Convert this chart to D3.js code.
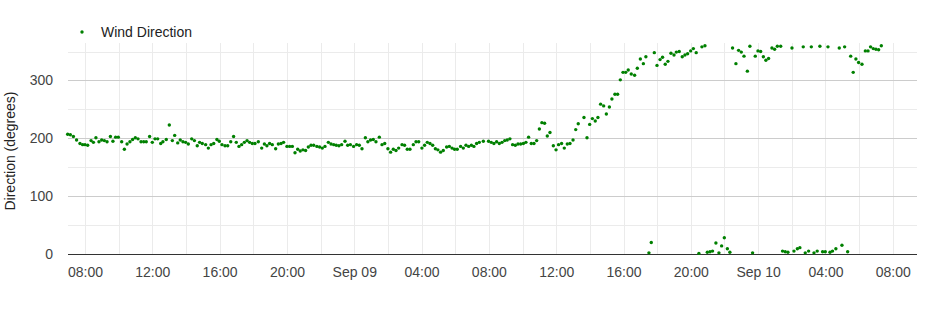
<!DOCTYPE html>
<html>
<head>
<meta charset="utf-8">
<script src="https://cdn.jsdelivr.net/npm/d3@7/dist/d3.min.js"></script>
<style>
  body { margin: 0; background: #fff; }
  text { font-family: "Liberation Sans", Arial, sans-serif; }
</style>
</head>
<body>
<div id="chart"></div>
<script>
  // readings: hours after Sep 08 00:00, and wind direction in degrees
  const startDay = new Date(2023, 8, 8);
  const seriesName = "Wind Direction";
  const yTitle = "Direction (degrees)";

  const hours = [
    6.97,7.13,7.31,7.50,7.70,7.86,8.00,8.16,8.36,8.50,
    8.65,8.83,8.99,9.15,9.31,9.51,9.66,9.82,9.98,10.18,
    10.34,10.50,10.67,10.83,10.99,11.15,11.33,11.49,11.64,11.84,
    12.00,12.16,12.32,12.50,12.63,12.83,13.01,13.19,13.33,13.51,
    13.66,13.82,13.98,14.14,14.34,14.50,14.67,14.81,14.97,15.17,
    15.33,15.49,15.65,15.84,15.98,16.14,16.32,16.48,16.66,16.83,
    16.99,17.15,17.31,17.47,17.63,17.78,17.94,18.10,18.30,18.50,
    18.66,18.81,18.97,19.13,19.33,19.49,19.65,19.80,20.00,20.16,
    20.32,20.48,20.64,20.79,20.95,21.11,21.27,21.43,21.59,21.78,
    21.94,22.10,22.26,22.46,22.62,22.78,22.93,23.09,23.25,23.45,
    23.61,23.77,23.96,
    24.14,24.30,24.46,24.66,24.81,24.97,25.13,25.29,25.49,25.65,
    25.81,26.00,26.16,26.32,26.48,26.64,26.84,26.99,27.15,27.31,
    27.51,27.67,27.83,28.02,28.18,28.34,28.50,28.66,28.82,28.97,
    29.13,29.29,29.49,29.65,29.81,29.96,30.12,30.32,30.48,30.64,
    30.80,30.96,31.11,31.27,31.43,31.67,31.98,32.14,32.30,32.46,
    32.62,32.78,32.94,33.09,33.25,33.41,33.57,33.73,33.89,34.05,
    34.20,34.36,34.52,34.68,34.84,35.00,35.15,35.31,35.47,35.63,
    35.83,35.99,36.14,
    36.32,36.48,36.66,36.82,37.00,37.16,37.31,37.65,37.83,37.99,
    38.15,38.32,38.48,38.64,38.82,38.98,39.16,39.31,39.49,39.65,
    39.81,39.97,40.13,40.28,40.46,40.66,40.82,41.00,41.18,41.33,
    41.83,41.99,42.17,42.32,42.48,42.64,42.82,43.00,43.14,43.31,
    43.49,43.65,43.81,43.99,44.15,44.32,44.66,44.84,
    46.48,46.68,46.84,47.00,47.16,47.36,47.51,47.83,47.99,48.15,
    48.31,48.46,48.62,48.82,48.98,49.14,49.34,50.01,50.68,51.16,
    51.67,52.15,52.82,53.14,53.50,53.65,53.81,53.97,54.17,54.37,
    54.53,54.68,54.84,55.00,55.16,55.32,
    // readings just past north (wrap to near 0)
    41.51,41.65,44.48,44.98,45.14,45.29,45.49,45.67,45.83,45.99,
    46.17,46.32,47.67,49.45,49.61,49.77,50.13,50.33,50.48,50.80,
    51.00,51.32,51.51,51.83,51.99,52.27,52.42,52.62,52.98,53.32
  ];

  const direction = [
    207,206,203,197,191,189,189,188,196,193,
    201,194,197,196,194,203,195,202,202,194,
    181,190,194,198,201,199,194,194,194,203,
    193,199,199,191,194,198,223,196,205,192,
    197,194,193,190,199,196,187,193,191,189,
    183,189,191,198,195,189,187,187,194,203,
    193,186,189,193,196,193,191,191,194,183,
    190,187,191,189,182,190,191,193,186,186,
    186,175,181,178,180,179,185,188,188,186,
    185,183,186,193,190,189,188,187,189,195,
    188,189,186,
    189,188,182,201,194,197,198,194,202,189,
    191,182,176,181,179,183,189,188,181,181,
    189,194,194,183,188,193,191,188,182,180,
    176,179,185,186,183,181,181,186,183,188,
    186,188,186,191,193,195,195,193,191,194,
    191,193,196,197,199,189,188,190,190,191,
    193,202,191,191,196,216,227,226,204,210,
    187,180,189,
    191,183,190,191,197,215,225,236,201,224,
    234,230,236,259,256,242,254,268,276,276,
    301,314,314,318,311,309,321,337,329,341,
    348,326,336,340,328,333,347,344,349,350,
    341,344,346,351,355,348,358,360,
    356,329,352,349,342,316,359,342,351,350,
    341,335,338,356,354,359,359,356,358,358,
    359,358,356,358,342,314,337,331,328,351,
    351,358,355,354,353,360,
    2,20,1,3,4,5,19,2,14,28,
    9,3,2,5,4,3,5,9,11,2,
    5,2,5,4,4,3,5,9,15,4
  ];

  const yTicks = [0, 100, 200, 300];
  const yGrid = [50, 100, 150, 200, 250, 300, 350];
  const xDomainHours = [6.99, 57.44];

  const width = 952, height = 316;
  const plot = {left: 68, right: 917, top: 43, bottom: 254};

  const toDate = h => new Date(startDay.getTime() + h * 3600 * 1000);
  const data = hours.map((h, i) => ({t: toDate(h), v: direction[i]}));

  let svg = d3.select("#chart")
    .append("svg")
      .attr("width", width)
      .attr("height", height);

  let x = d3.scaleTime()
    .domain(xDomainHours.map(toDate))
    .range([plot.left, plot.right]);

  let y = d3.scaleLinear()
    .domain([0, 350])
    .range([plot.bottom, 51.5]);

  // vertical gridlines every 2 hours
  svg.append("g")
    .selectAll("line")
    .data(x.ticks(d3.timeHour.every(2)))
    .enter()
    .append("line")
      .attr("x1", d => Math.round(x(d)) + 0.5)
      .attr("x2", d => Math.round(x(d)) + 0.5)
      .attr("y1", plot.top)
      .attr("y2", plot.bottom)
      .attr("stroke", "#ebebeb");

  // horizontal gridlines
  svg.append("g")
    .selectAll("line")
    .data(yGrid)
    .enter()
    .append("line")
      .attr("x1", plot.left)
      .attr("x2", plot.right)
      .attr("y1", d => Math.round(y(d)) + 0.5)
      .attr("y2", d => Math.round(y(d)) + 0.5)
      .attr("stroke", d => d % 100 === 0 ? "#cccccc" : "#ebebeb");

  // baseline
  svg.append("line")
    .attr("x1", plot.left)
    .attr("x2", plot.right)
    .attr("y1", Math.round(y(0)) + 0.5)
    .attr("y2", Math.round(y(0)) + 0.5)
    .attr("stroke", "#333");

  const fmt = d => d.getHours() === 0 ? d3.timeFormat("%b %d")(d) : d3.timeFormat("%H:%M")(d);

  let xAxis = svg.append("g")
    .attr("transform", "translate(0," + y(0) + ")")
    .call(d3.axisBottom(x).ticks(d3.timeHour.every(4)).tickFormat(fmt).tickSize(0).tickPadding(13));
  xAxis.select(".domain").remove();
  xAxis.selectAll("text")
    .attr("font-size", 14)
    .attr("fill", "#444")
    .attr("font-family", "Liberation Sans, Arial, sans-serif");

  let yAxis = svg.append("g")
    .attr("transform", "translate(" + plot.left + ",0)")
    .call(d3.axisLeft(y).tickValues(yTicks).tickSize(0).tickPadding(15));
  yAxis.select(".domain").remove();
  yAxis.selectAll("text")
    .attr("font-size", 14)
    .attr("fill", "#444")
    .attr("font-family", "Liberation Sans, Arial, sans-serif");

  // y title
  svg.append("text")
    .attr("transform", "translate(10,151) rotate(-90)")
    .attr("text-anchor", "middle")
    .attr("dy", "0.35em")
    .attr("font-size", 14)
    .attr("fill", "#222")
    .text(yTitle);

  // points
  svg.append("g")
    .selectAll("circle")
    .data(data)
    .enter()
    .append("circle")
      .attr("cx", d => x(d.t))
      .attr("cy", d => y(d.v))
      .attr("r", 1.7)
      .attr("fill", "#008000");

  // legend
  svg.append("circle")
    .attr("cx", 82)
    .attr("cy", 32)
    .attr("r", 1.7)
    .attr("fill", "#008000");
  svg.append("text")
    .attr("x", 101)
    .attr("y", 32)
    .attr("dy", "0.35em")
    .attr("font-size", 14)
    .attr("fill", "#222")
    .text(seriesName);
</script>
</body>
</html>
